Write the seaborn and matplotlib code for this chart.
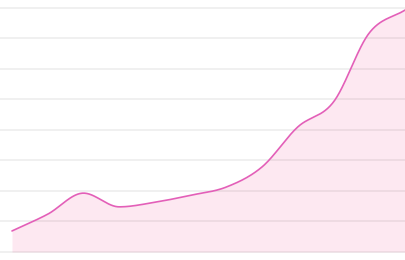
import numpy as np
import pandas as pd
import matplotlib
matplotlib.use("Agg")
import matplotlib.pyplot as plt
import seaborn as sns

# data
periods = list(range(12))
values = [6.9, 12.4, 19.3, 14.8, 16.3, 18.6, 21.3, 27.9, 41.0, 49.2, 71.8, 79.3]
grid_ticks = [0, 10, 20, 30, 40, 50, 60, 70, 80]

LINE = "#e35fb8"
FILL = "#fde8f1"


def monotone_curve(x, y, n=30):
    """Fritsch-Carlson monotone cubic rendering of the line (drawing style only)."""
    x = np.asarray(x, float)
    y = np.asarray(y, float)
    h = np.diff(x)
    d = np.diff(y) / h
    m = np.zeros_like(y)
    m[0], m[-1] = d[0], d[-1]
    for i in range(1, len(y) - 1):
        if d[i - 1] * d[i] <= 0:
            m[i] = 0
        else:
            m[i] = (h[i - 1] * d[i] + h[i] * d[i - 1]) / (h[i - 1] + h[i])
            s = np.sign(d[i - 1]) + np.sign(d[i])
            m[i] = s * min(abs(d[i - 1]), abs(d[i]), 0.5 * abs(m[i]))
    xs, ys = [], []
    for i in range(len(h)):
        t = np.linspace(0, 1, n, endpoint=False)
        h00 = 2 * t**3 - 3 * t**2 + 1
        h10 = t**3 - 2 * t**2 + t
        h01 = -2 * t**3 + 3 * t**2
        h11 = t**3 - t**2
        xs.append(x[i] + t * h[i])
        ys.append(h00 * y[i] + h10 * h[i] * m[i] + h01 * y[i + 1] + h11 * h[i] * m[i + 1])
    xs.append([x[-1]])
    ys.append([y[-1]])
    return np.concatenate(xs), np.concatenate(ys)


sns.set_style("white")
fig = plt.figure(figsize=(4.05, 2.6), dpi=100)
ax = fig.add_axes([0, 0, 1, 1])

cx, cy = monotone_curve(periods, values)
curve = pd.DataFrame({"x": cx, "y": cy})

ax.fill_between(curve["x"], 0, curve["y"], color=FILL, lw=0, zorder=1)
for g in grid_ticks:
    ax.axhline(g, color="black", alpha=0.065, lw=1.3, zorder=2)
sns.lineplot(data=curve, x="x", y="y", ax=ax, color=LINE, lw=1.2, zorder=3)

ax.set_xlim(-0.336, 11)
ax.set_ylim(-2.62, 82.6)
ax.set_xticks([])
ax.set_yticks([])
ax.set_xlabel("")
ax.set_ylabel("")
for s in ax.spines.values():
    s.set_visible(False)

fig.savefig("out.png", dpi=100)
